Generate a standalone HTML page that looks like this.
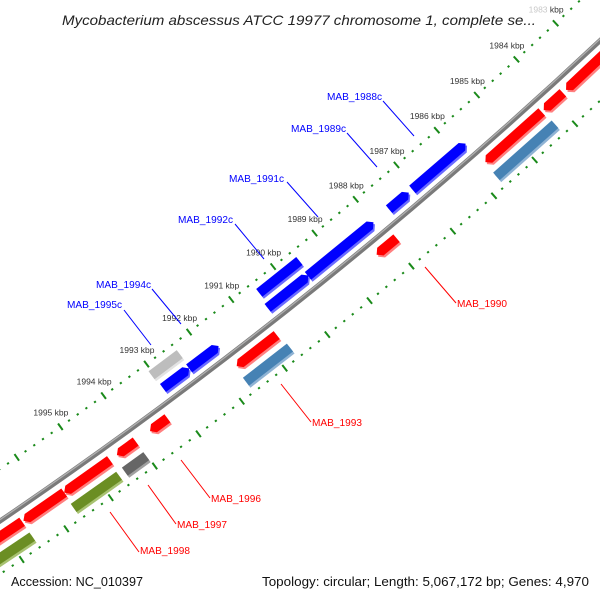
<!DOCTYPE html>
<html><head><meta charset="utf-8"><style>
html,body{margin:0;padding:0;background:#fff;width:600px;height:600px;overflow:hidden;}
svg{display:block;overflow:hidden;}
text{font-family:"Liberation Sans","DejaVu Sans",sans-serif;}
</style></head><body>
<svg id="map" width="600" height="600" viewBox="0 0 600 600" xmlns="http://www.w3.org/2000/svg">
<rect x="0" y="0" width="600" height="600" fill="#fff"/>
<g id="ticks"></g>
<g id="backbone"></g>
<g id="genes"></g>
<g id="ticklabels"></g>
<g font-size="10.5">
  <g fill="#0000ff" stroke="none">
    <text x="327" y="100" textLength="55" lengthAdjust="spacingAndGlyphs">MAB_1988c</text>
    <text x="291" y="132" textLength="55" lengthAdjust="spacingAndGlyphs">MAB_1989c</text>
    <text x="229" y="182" textLength="55" lengthAdjust="spacingAndGlyphs">MAB_1991c</text>
    <text x="178" y="223" textLength="55" lengthAdjust="spacingAndGlyphs">MAB_1992c</text>
    <text x="96" y="288" textLength="55" lengthAdjust="spacingAndGlyphs">MAB_1994c</text>
    <text x="67" y="308" textLength="55" lengthAdjust="spacingAndGlyphs">MAB_1995c</text>
  </g>
  <g stroke="#0000ff" stroke-width="1">
    <line x1="383" y1="101" x2="414" y2="136"/>
    <line x1="347" y1="133" x2="377" y2="167"/>
    <line x1="287" y1="182" x2="318" y2="217"/>
    <line x1="235" y1="224" x2="264" y2="259"/>
    <line x1="152" y1="289" x2="181" y2="324"/>
    <line x1="124" y1="310" x2="151" y2="345"/>
  </g>
  <g fill="#ff0000">
    <text x="457" y="307" textLength="50" lengthAdjust="spacingAndGlyphs">MAB_1990</text>
    <text x="312" y="426" textLength="50" lengthAdjust="spacingAndGlyphs">MAB_1993</text>
    <text x="211" y="502" textLength="50" lengthAdjust="spacingAndGlyphs">MAB_1996</text>
    <text x="177" y="528" textLength="50" lengthAdjust="spacingAndGlyphs">MAB_1997</text>
    <text x="140" y="554" textLength="50" lengthAdjust="spacingAndGlyphs">MAB_1998</text>
  </g>
  <g stroke="#ff0000" stroke-width="1">
    <line x1="425" y1="267" x2="456" y2="303"/>
    <line x1="281" y1="384" x2="311" y2="422"/>
    <line x1="181" y1="460" x2="210" y2="498"/>
    <line x1="148" y1="485" x2="176" y2="524"/>
    <line x1="110" y1="512" x2="139" y2="552"/>
  </g>
</g>
<text x="62" y="25" font-size="14" font-style="italic" fill="#222" textLength="474" lengthAdjust="spacingAndGlyphs">Mycobacterium abscessus ATCC 19977 chromosome 1, complete se...</text>
<text x="11" y="586" font-size="12.5" fill="#111" textLength="132" lengthAdjust="spacingAndGlyphs">Accession: NC_010397</text>
<text x="262" y="586" font-size="12.5" fill="#111" textLength="327" lengthAdjust="spacingAndGlyphs">Topology: circular; Length: 5,067,172 bp; Genes: 4,970</text>
</svg>
<script>
// ---- data ----
const tickStartKbp = 1981;
const tickEndKbp = 1999;
const tickLabelKbp = [1983,1984,1985,1986,1987,1988,1989,1990,1991,1992,1993,1994,1995];
const geneNames = ["red-a","red-b","red-c","steel-a","blue-a","blue-b","blue-c","blue-d","blue-outer","red-1990","blue-e","blue-f","grey-outer","red-1993","steel-b","red-g","red-1996","dgrey-1997","red-h","red-i","red-j","olive-1998","olive-b"];
const geneStart = [1984.31,1983.78,1981.0,1984.28,1985.76,1987.16,1988.02,1989.59,1989.55,1987.88,1991.72,1992.41,1992.39,1990.74,1990.69,1993.29,1994.02,1994.02,1994.61,1995.65,1996.6,1994.64,1996.6];
const geneEnd   = [1985.71,1984.26,1983.70,1985.73,1987.07,1987.64,1989.60,1990.56,1990.51,1988.36,1992.41,1993.02,1993.05,1991.68,1991.72,1993.69,1994.45,1994.51,1995.65,1996.57,1998.2,1995.67,1998.2];
const geneRow   = [2,2,2,3,1,1,1,1,0,2,1,1,0,2,3,2,2,3,2,2,2,3,3];
const geneType  = ["red","red","red","steel","blue","blue","blue","blue","blueBox","red","blue","blue","lgrey","red","steel","red","red","dgrey","red","red","red","olive","olive"];

// ---- geometry ----
const CX=-2760, CY=-3541;
const A0=47.07, DEG_PER_KBP=0.627;
const R_BACK=4911, R_TICK_IN=4868, R_TICK_OUT=4955;
const ROW_R=[4880,4897,4924,4942];
const HALF=5;
const NS="http://www.w3.org/2000/svg";
function ang(k){return (A0+(k-1983)*DEG_PER_KBP)*Math.PI/180;}
function pt(k,r){const a=ang(k);return [CX+r*Math.cos(a),CY+r*Math.sin(a)];}
function mk(tag,attrs,parent){const e=document.createElementNS(NS,tag);for(const k in attrs)e.setAttribute(k,attrs[k]);parent.appendChild(e);return e;}

// ticks
const tg=document.getElementById('ticks');
[R_TICK_IN,R_TICK_OUT].forEach((R,ri)=>{
  for(let i=0;i<=Math.round((tickEndKbp-tickStartKbp)*5);i++){
    const k=tickStartKbp+i*0.2;
    const major=(i%5===0);
    const len=major?4:1;
    const p1=pt(k,R-len),p2=pt(k,R+len);
    const l=mk('line',{x1:p1[0],y1:p1[1],x2:p2[0],y2:p2[1],stroke:'#1a8a1a','stroke-width':major?2:2.2},tg);
    
    
  }
});

// backbone
const bg=document.getElementById('backbone');
function arcPath(k1,k2,r){const p=pt(k1,r),q=pt(k2,r);return `M${p[0]},${p[1]} A${r},${r} 0 0 1 ${q[0]},${q[1]}`;}
const b1=mk('path',{d:arcPath(1978,2001,R_BACK),stroke:'#7a7a7a','stroke-width':5,fill:'none'},bg);


const b2=mk('path',{d:arcPath(1978,2001,R_BACK-1.2),stroke:'#b0b0b0','stroke-width':1.3,fill:'none'},bg);



// genes
const COLORS={red:['#ff0000','#ff8080'],steel:['#4682b4','#8fb3d4'],blue:['#0000ff','#6a6aff'],blueBox:['#0000ff','#6a6aff'],lgrey:['#bdbdbd','#e3e3e3'],dgrey:['#666666','#a0a0a0'],olive:['#6b8e23','#a8c271']};
const HEAD=0.09; // kbp
const gg=document.getElementById('genes');
for(let i=0;i<geneNames.length;i++){
  const s=geneStart[i],e=geneEnd[i],rc=ROW_R[geneRow[i]],t=geneType[i];
  let pts;
  if(t==='red'){
    const h=Math.min(HEAD,(e-s)*0.4);
    pts=[pt(s,rc-HALF),pt(e-h,rc-HALF),pt(e,rc),pt(e-h,rc+HALF),pt(s,rc+HALF)];
  } else if(t==='blue'){
    const h=Math.min(HEAD,(e-s)*0.4);
    pts=[pt(s,rc),pt(s+h,rc-HALF),pt(e,rc-HALF),pt(e,rc+HALF),pt(s+h,rc+HALF)];
  } else {
    pts=[pt(s,rc-HALF),pt(e,rc-HALF),pt(e,rc+HALF),pt(s,rc+HALF)];
  }
  const str=pts.map(p=>p[0].toFixed(2)+','+p[1].toFixed(2)).join(' ');
  const g=mk('g',{},gg);
  
  
  const sh=mk('polygon',{points:str,fill:COLORS[t][1],transform:'translate(1.5,2)'},g);
  
  
  const mp=mk('polygon',{points:str,fill:COLORS[t][0]},g);
  
  
}

// tick labels
const lg=document.getElementById('ticklabels');
tickLabelKbp.forEach(k=>{
  const p=pt(k,R_TICK_IN);
  const tx=mk('text',{x:p[0]+8,y:p[1]-11,'text-anchor':'end','font-size':'8.5',fill:'#333'},lg);
  
  
  if(k===1983){
    const a=document.createElementNS(NS,'tspan');a.setAttribute('fill','#c8c8c8');a.textContent=k+' ';tx.appendChild(a);
    const b=document.createElementNS(NS,'tspan');b.textContent='kbp';tx.appendChild(b);
  } else tx.textContent=k+' kbp';
});
</script>
</body></html>
